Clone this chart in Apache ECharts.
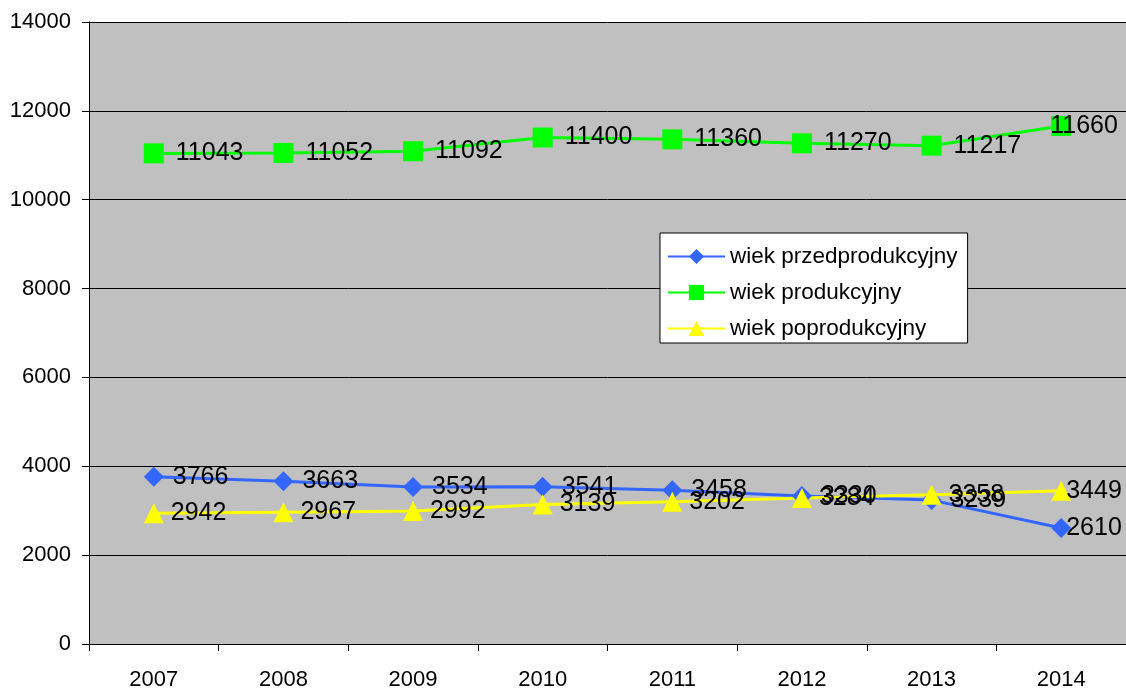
<!DOCTYPE html>
<html>
<head>
<meta charset="utf-8">
<script src="https://cdn.jsdelivr.net/npm/echarts@6/dist/echarts.min.js"></script>
<style>
html,body{margin:0;padding:0;background:#fff;}
#chart{width:1126px;height:691px;}
</style>
</head>
<body>
<div id="chart"></div>
<script>
const years = ['2007', '2008', '2009', '2010', '2011', '2012', '2013', '2014'];
const przedprodukcyjny = [3766, 3663, 3534, 3541, 3458, 3330, 3239, 2610];
const produkcyjny = [11043, 11052, 11092, 11400, 11360, 11270, 11217, 11660];
const poprodukcyjny = [2942, 2967, 2992, 3139, 3202, 3284, 3358, 3449];

const font = 'Liberation Sans, Arial, sans-serif';

// last point: label pulled left so it stays inside the chart
const mkSeries = (name, data, color, symbol, dist, lastShift) => ({
  name: name,
  type: 'line',
  data: data.map((v, i) => i === data.length - 1 ? { value: v, label: { offset: [lastShift, 0] } } : v),
  symbol: symbol,
  symbolSize: 20,
  lineStyle: { color: color, width: 3 },
  itemStyle: { color: color },
  label: {
    show: true,
    position: 'right',
    distance: dist,
    color: '#000',
    fontSize: 25,
    fontFamily: font
  },
  emphasis: { disabled: true }
});

const myChart = echarts.init(document.getElementById('chart'));
const option = {
  animation: false,
  grid: { left: 89, right: 0, top: 22, bottom: 43, backgroundColor: '#c0c0c0', show: true, borderWidth: 0 },
  legend: {
    orient: 'vertical',
    left: 660,
    top: 233,
    backgroundColor: '#fff',
    borderColor: '#000',
    borderWidth: 1,
    borderRadius: 0,
    padding: [12, 10, 3, 7],
    itemWidth: 57,
    itemHeight: 19,
    itemGap: 13,
    textStyle: { fontSize: 22.5, fontFamily: font, color: '#000' },
    data: ['wiek przedprodukcyjny', 'wiek produkcyjny', 'wiek poprodukcyjny']
  },
  xAxis: {
    type: 'category',
    data: years,
    boundaryGap: true,
    axisLine: { lineStyle: { color: '#000', width: 1 } },
    axisTick: { show: true, length: 7, interval: 0, lineStyle: { color: '#000' } },
    axisLabel: { fontSize: 22, fontFamily: font, color: '#000', margin: 25 },
    splitLine: { show: false }
  },
  yAxis: {
    type: 'value',
    min: 0,
    max: 14000,
    interval: 2000,
    axisLine: { show: true, lineStyle: { color: '#000', width: 1 } },
    axisTick: { show: true, length: 7, lineStyle: { color: '#000' } },
    axisLabel: { fontSize: 22, fontFamily: font, color: '#000', margin: 18, formatter: v => String(v) },
    splitLine: { show: true, lineStyle: { color: '#000', width: 1 } }
  },
  series: [
    mkSeries('wiek przedprodukcyjny', przedprodukcyjny, '#3366ff', 'diamond', 9, -14),
    mkSeries('wiek produkcyjny', produkcyjny, '#00ff00', 'rect', 12, -33),
    mkSeries('wiek poprodukcyjny', poprodukcyjny, '#ffff00', 'triangle', 7, -12)
  ]
};
myChart.setOption(option);
</script>
</body>
</html>
